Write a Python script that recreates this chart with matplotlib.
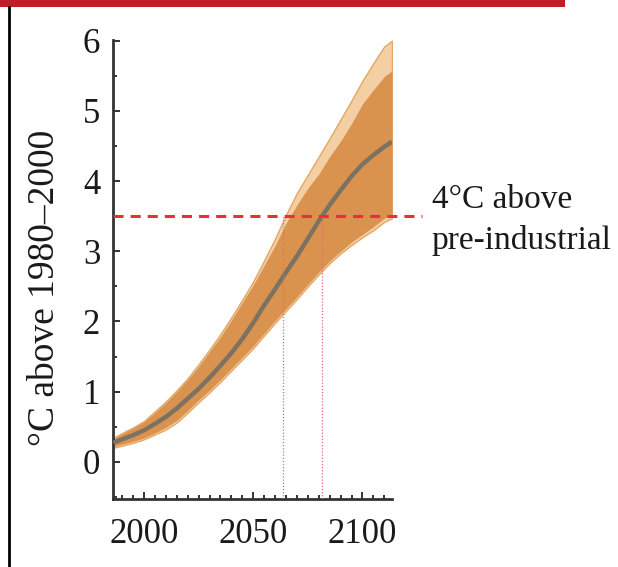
import matplotlib.pyplot as plt
from matplotlib.lines import Line2D
from matplotlib.patches import Rectangle
from matplotlib.ticker import MultipleLocator

# warming projection
years = [1986, 1990, 1995, 2000, 2005, 2010, 2015, 2020, 2025, 2030,
         2035, 2040, 2045, 2050, 2055, 2060, 2065, 2070, 2075, 2080,
         2085, 2090, 2095, 2100, 2105, 2110, 2113.5]
median = [0.27, 0.32, 0.38, 0.45, 0.54, 0.64, 0.76, 0.90, 1.04, 1.20,
          1.37, 1.55, 1.75, 1.98, 2.23, 2.46, 2.70, 2.93, 3.18, 3.43,
          3.66, 3.87, 4.07, 4.24, 4.37, 4.49, 4.56]
outer_hi = [0.34, 0.41, 0.49, 0.58, 0.72, 0.86, 1.02, 1.19, 1.39, 1.60,
            1.82, 2.06, 2.31, 2.57, 2.87, 3.18, 3.52, 3.83, 4.09, 4.35,
            4.61, 4.88, 5.15, 5.43, 5.68, 5.92, 6.00]
inner_hi = [0.33, 0.40, 0.48, 0.57, 0.70, 0.84, 1.00, 1.17, 1.36, 1.57,
            1.78, 2.02, 2.27, 2.52, 2.80, 3.08, 3.40, 3.66, 3.90, 4.10,
            4.35, 4.57, 4.82, 5.10, 5.30, 5.49, 5.57]
outer_lo = [0.20, 0.23, 0.27, 0.32, 0.39, 0.46, 0.56, 0.70, 0.85, 0.99,
            1.14, 1.30, 1.46, 1.62, 1.80, 1.98, 2.15, 2.32, 2.50, 2.67,
            2.83, 2.97, 3.09, 3.20, 3.30, 3.42, 3.47]
inner_lo = [0.22, 0.25, 0.29, 0.34, 0.41, 0.49, 0.59, 0.73, 0.88, 1.02,
            1.17, 1.33, 1.49, 1.65, 1.83, 2.01, 2.18, 2.35, 2.53, 2.70,
            2.86, 3.00, 3.13, 3.24, 3.35, 3.47, 3.52]

threshold = 3.5
cross_years = [2063.6, 2081.3]
xtick_years = [2000, 2050, 2100]
threshold_label = '4°C above\npre-industrial'

plt.rcParams['font.family'] = ['Liberation Serif', 'DejaVu Serif']

fig = plt.figure(figsize=(6.18, 5.67), dpi=100)
ax = fig.add_axes([0.1824, 0.1199, 0.4519, 0.8096])

ax.fill_between(years, outer_lo, outer_hi, color='#f3cfa3',
                edgecolor='#e3a766', linewidth=1.0, zorder=1)
ax.fill_between(years, inner_lo, inner_hi, color='#d9934f',
                linewidth=0, zorder=2)
ax.plot(years, median, color='#7d7262', linewidth=3.2, zorder=3,
        solid_capstyle='butt', solid_joinstyle='round')

# threshold line runs past the axes to the label
ax.plot([0, 1.106], [threshold, threshold], transform=ax.get_yaxis_transform(),
        color='#e8303c', linewidth=2.2, linestyle=(0, (3.3, 2.3)),
        clip_on=False, zorder=4)
for yr in cross_years:
    ax.plot([yr, yr], [-0.53, threshold], color='#e8637a', linewidth=0.9,
            linestyle=(0, (1, 1.5)), zorder=4)
ax.annotate(threshold_label, xy=(1.142, threshold),
            xycoords=ax.get_yaxis_transform(), xytext=(0, -3),
            textcoords='offset points', ha='left', va='center',
            fontsize=24, linespacing=1.45, color='#1a1a1a')

ax.set_xlim(1985.7, 2113.5)
ax.set_ylim(-0.53, 6.01)
ax.set_xticks(xtick_years)
ax.set_yticks(range(0, 7))
ax.xaxis.set_minor_locator(MultipleLocator(5))
ax.yaxis.set_minor_locator(MultipleLocator(0.5))
ax.tick_params(which='both', direction='in', color='#333333', width=1.4,
               labelsize=25, labelcolor='#1a1a1a')
ax.tick_params(which='major', length=5)
ax.tick_params(which='minor', length=3)
ax.tick_params(axis='x', pad=14)
ax.tick_params(axis='y', pad=9)

for side in ['top', 'right']:
    ax.spines[side].set_visible(False)
for side in ['left', 'bottom']:
    ax.spines[side].set_color('#333333')
    ax.spines[side].set_linewidth(2)

ax.set_ylabel('°C above 1980–2000', fontsize=27, color='#1a1a1a')
ax.yaxis.set_label_coords(-0.182, 0.46)

# page frame: red bar on top, black rule on the left
fig.add_artist(Rectangle((0, 1 - 7 / 567), 565 / 618, 7 / 567,
                         transform=fig.transFigure, color='#c01f27', lw=0))
fig.add_artist(Line2D([9 / 618, 9 / 618], [0, 1 - 7 / 567],
                      transform=fig.transFigure, color='black', lw=2))

plt.savefig('out.png', dpi=100)
plt.close()
